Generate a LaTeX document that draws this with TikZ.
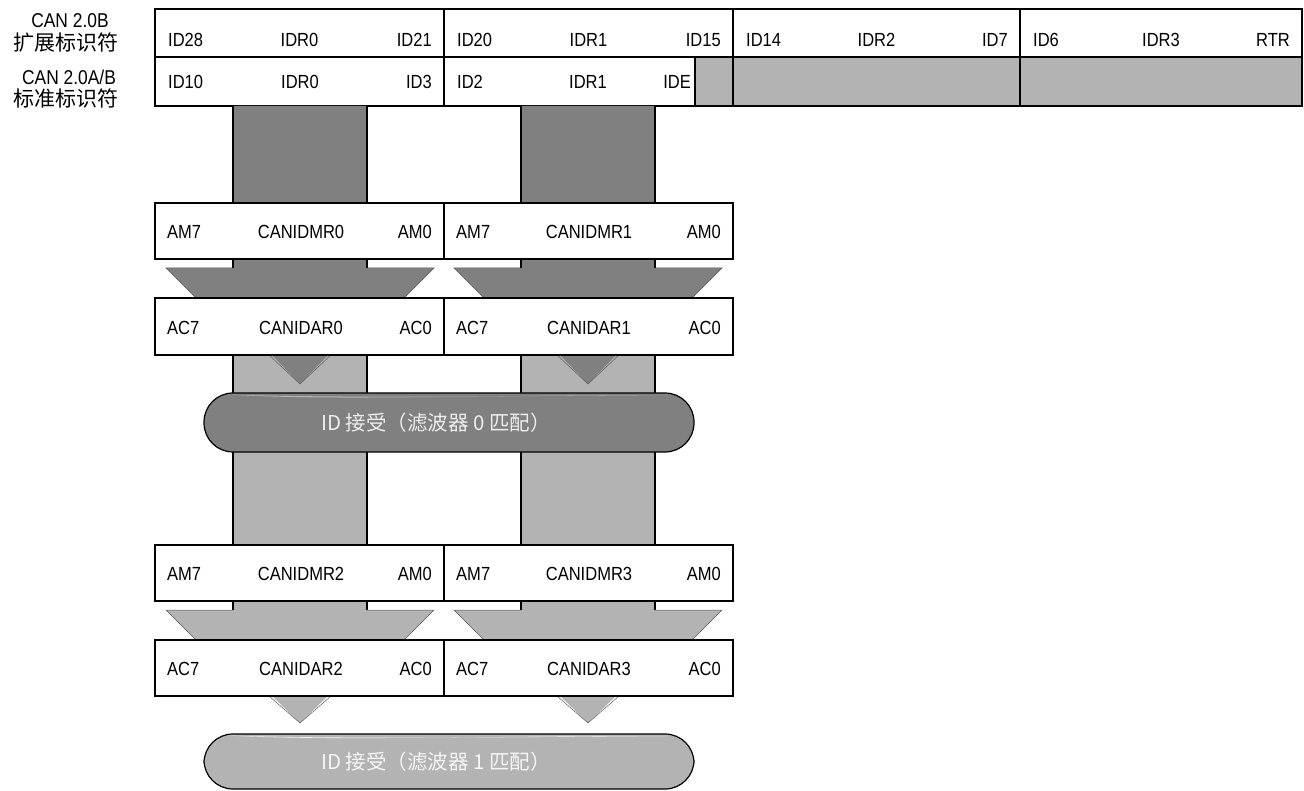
\documentclass[tikz,border=0pt]{standalone}
\usepackage{fontspec}
\setmainfont{Liberation Sans}[FakeStretch=0.87]
\newfontfamily\cjk{Noto Sans CJK SC}
\usetikzlibrary{positioning}

\definecolor{darkgr}{HTML}{808080}
\definecolor{lightgr}{HTML}{B3B3B3}

\tikzset{
    cell/.style={font=\fontsize{19}{21}\selectfont, inner sep=0pt},
    sidelbl/.style={font=\fontsize{20}{22}\selectfont, inner sep=0pt},
    sidecjk/.style={font=\cjk\fontsize{21}{23}\selectfont, inner sep=0pt},
    frame/.style={line width=2.1pt},
    stemline/.style={line width=1.1pt},
    tipline/.style={darkgr!70!black, line width=0.5pt},
    accept/.style={draw, line width=1.2pt, rounded corners=29pt},
    accepttext/.style={font=\cjk\fontsize{20.5}{23}\selectfont, inner sep=0pt},
}

\begin{document}
\begin{tikzpicture}[x=1pt, y=-1pt]
    \useasboundingbox (0,0) rectangle (1304,791);

    % identifier formats
    \node[sidelbl] (ext1) at (70,21) {CAN 2.0B};
    \node[sidecjk] (ext2) at (66,43) {扩展标识符};
    \node[sidelbl] (std1) at (69,77) {CAN 2.0A/B};
    \node[sidecjk] (std2) at (66,98) {标准标识符};

    \fill[lightgr] (695,57) rectangle (1302,106);
    \draw[frame] (155,9) rectangle (1302,106);
    \draw[frame] (155,57) -- (1302,57);
    \foreach \x in {444,733,1020} {
        \draw[frame] (\x,9) -- (\x,106);
    }
    \draw[frame] (695,57) -- (695,106);

    \foreach \xl/\xr/\a/\b/\c [count=\k] in {155/444/ID28/IDR0/ID21, 444/733/ID20/IDR1/ID15, 733/1020/ID14/IDR2/ID7, 1020/1302/ID6/IDR3/RTR} {
        \node[cell, anchor=west] (ext\k-a) at (\xl+13,40) {\a};
        \node[cell] (ext\k-b) at ({(\xl+\xr)/2},40) {\b};
        \node[cell, anchor=east] (ext\k-c) at (\xr-12,40) {\c};
    }
    \foreach \xl/\xm/\xr/\a/\b/\c [count=\k] in {155/300/432/ID10/IDR0/ID3, 444/588/691/ID2/IDR1/IDE} {
        \node[cell, anchor=west] (std\k-a) at (\xl+13,82) {\a};
        \node[cell] (std\k-b) at (\xm,82) {\b};
        \node[cell, anchor=east] (std\k-c) at (\xr,82) {\c};
    }

    % data paths through the filter
    \foreach \c in {300,588} {
        \fill[darkgr] (\c-67,106) -- (\c-67,268) -- (\c-134,268) -- (\c-102,300)
            -- (\c+102,300) -- (\c+134,268) -- (\c+67,268) -- (\c+67,106) -- cycle;
        \draw[tipline] (\c-67,268) -- (\c-134,268) -- (\c-102,300);
        \draw[tipline] (\c+67,268) -- (\c+134,268) -- (\c+102,300);
        \draw[stemline] (\c-67,106) -- (\c-67,268);
        \draw[stemline] (\c+67,106) -- (\c+67,268);

        \fill[lightgr] (\c-67,355) rectangle (\c+67,545);
        \draw[stemline] (\c-67,355) -- (\c-67,545);
        \draw[stemline] (\c+67,355) -- (\c+67,545);
        \fill[darkgr] (\c-31,352) -- (\c,384) -- (\c+31,352) -- cycle;
        \draw[tipline] (\c-31,355) -- (\c,384) -- (\c+31,355);

        \fill[lightgr] (\c-67,601) -- (\c-67,610) -- (\c-134,610) -- (\c-104,640)
            -- (\c+104,640) -- (\c+134,610) -- (\c+67,610) -- (\c+67,601) -- cycle;
        \draw[tipline] (\c-67,610) -- (\c-134,610) -- (\c-104,640);
        \draw[tipline] (\c+67,610) -- (\c+134,610) -- (\c+104,640);
        \draw[stemline] (\c-67,598) -- (\c-67,610);
        \draw[stemline] (\c+67,598) -- (\c+67,610);
        \fill[lightgr] (\c-31,693) -- (\c,723) -- (\c+31,693) -- cycle;
        \draw[tipline] (\c-31,696) -- (\c,723) -- (\c+31,696);
    }

    % mask and acceptance registers
    \foreach \yt/\yb/\reg/\hi/\lo/\na/\nb in {203/259/CANIDMR/AM7/AM0/0/1, 298/355/CANIDAR/AC7/AC0/0/1, 545/601/CANIDMR/AM7/AM0/2/3, 640/696/CANIDAR/AC7/AC0/2/3} {
        \draw[frame, fill=white] (155,\yt) rectangle (733,\yb);
        \draw[frame] (444,\yt) -- (444,\yb);
        \node[cell, anchor=west] (\reg\na-hi) at (167,{(\yt+\yb)/2+1}) {\hi};
        \node[cell] (\reg\na) at (301,{(\yt+\yb)/2+1}) {\reg\na};
        \node[cell, anchor=east] (\reg\na-lo) at (432,{(\yt+\yb)/2+1}) {\lo};
        \node[cell, anchor=west] (\reg\nb-hi) at (456,{(\yt+\yb)/2+1}) {\hi};
        \node[cell] (\reg\nb) at (589,{(\yt+\yb)/2+1}) {\reg\nb};
        \node[cell, anchor=east] (\reg\nb-lo) at (721,{(\yt+\yb)/2+1}) {\lo};
    }

    % ID accepted
    \draw[accept, fill=darkgr] (204,393) rectangle (694,452);
    \fill[lightgr] (228,394.5) .. controls (330,401) and (480,395) .. (668,395)
        .. controls (480,396.5) and (330,398) .. (228,394.5) -- cycle;
    \node[accepttext, text=white!93!black] (acc0) at (436,423) {ID 接受（滤波器 0 匹配）};

    \draw[accept, fill=lightgr] (204,734) rectangle (694,789);
    \fill[white!85!lightgr] (228,735.5) .. controls (330,741) and (480,736) .. (668,736)
        .. controls (480,737.5) and (330,739) .. (228,735.5) -- cycle;
    \node[accepttext, text=white!96!black] (acc1) at (436,762) {ID 接受（滤波器 1 匹配）};
\end{tikzpicture}
\end{document}
